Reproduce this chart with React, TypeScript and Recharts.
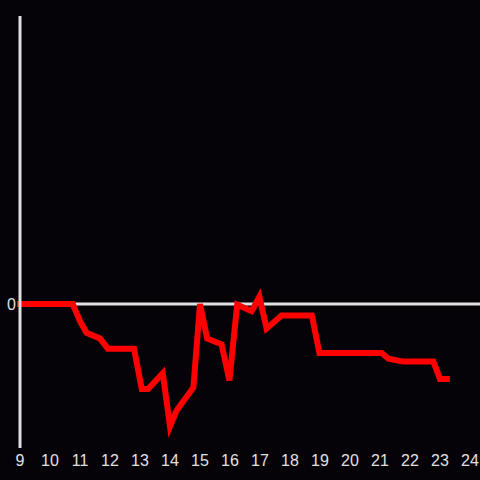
import { LineChart, Line, XAxis, YAxis, ReferenceLine } from "recharts";

const HOURS = [
  9, 10.76, 11.0, 11.22, 11.67, 11.93, 12.8, 13.06, 13.27, 13.76, 14.0, 14.22,
  14.78, 15.0, 15.24, 15.72, 15.98, 16.24, 16.72, 16.98, 17.22, 17.72, 18.73,
  18.98, 21.06, 21.28, 21.78, 22.78, 23.0, 23.23,
];
const VALUES = [
  0, 0, -1.2, -2.0, -2.4, -3.1, -3.1, -5.9, -5.9, -4.8, -8.5, -7.4, -5.8, 0,
  -2.4, -2.8, -5.3, -0.05, -0.5, 0.5, -1.7, -0.8, -0.8, -3.4, -3.4, -3.8, -4.0,
  -4.0, -5.2, -5.2,
];
const X_TICKS = [9, 10, 11, 12, 13, 14, 15, 16, 17, 18, 19, 20, 21, 22, 23, 24];
const Y_TICKS = [0];

const BG = "#050307";
const AXIS = "#e0e0e0";

const data = HOURS.map((h, i) => ({ hour: h, value: VALUES[i] }));

export default function App() {
  return (
    <div
      style={{
        position: "absolute",
        left: 0,
        top: 0,
        width: 480,
        height: 480,
        background: BG,
        fontFamily: "'Liberation Sans', Arial, sans-serif",
      }}
    >
      <LineChart
        width={480}
        height={480}
        data={data}
        margin={{ top: 16, right: 0, left: 0, bottom: 0 }}
      >
        <XAxis
          dataKey="hour"
          type="number"
          domain={[9, 24.3333]}
          ticks={X_TICKS}
          interval={0}
          height={32}
          axisLine={false}
          tickLine={false}
          tickSize={5}
          tickMargin={2}
          tick={{ fill: AXIS, fontSize: 16 }}
        />
        <YAxis
          type="number"
          domain={[-10, 20]}
          ticks={Y_TICKS}
          width={20}
          axisLine={false}
          tickLine={false}
          tickSize={0}
          tickMargin={4}
          tick={{ fill: AXIS, fontSize: 16 }}
        />
        <ReferenceLine y={0} stroke={AXIS} strokeWidth={3} />
        <Line
          type="linear"
          dataKey="value"
          stroke="#ff0000"
          strokeWidth={6}
          strokeLinecap="square"
          dot={false}
          activeDot={false}
          isAnimationActive={false}
        />
        <ReferenceLine x={9} stroke={AXIS} strokeWidth={3} />
      </LineChart>
    </div>
  );
}
